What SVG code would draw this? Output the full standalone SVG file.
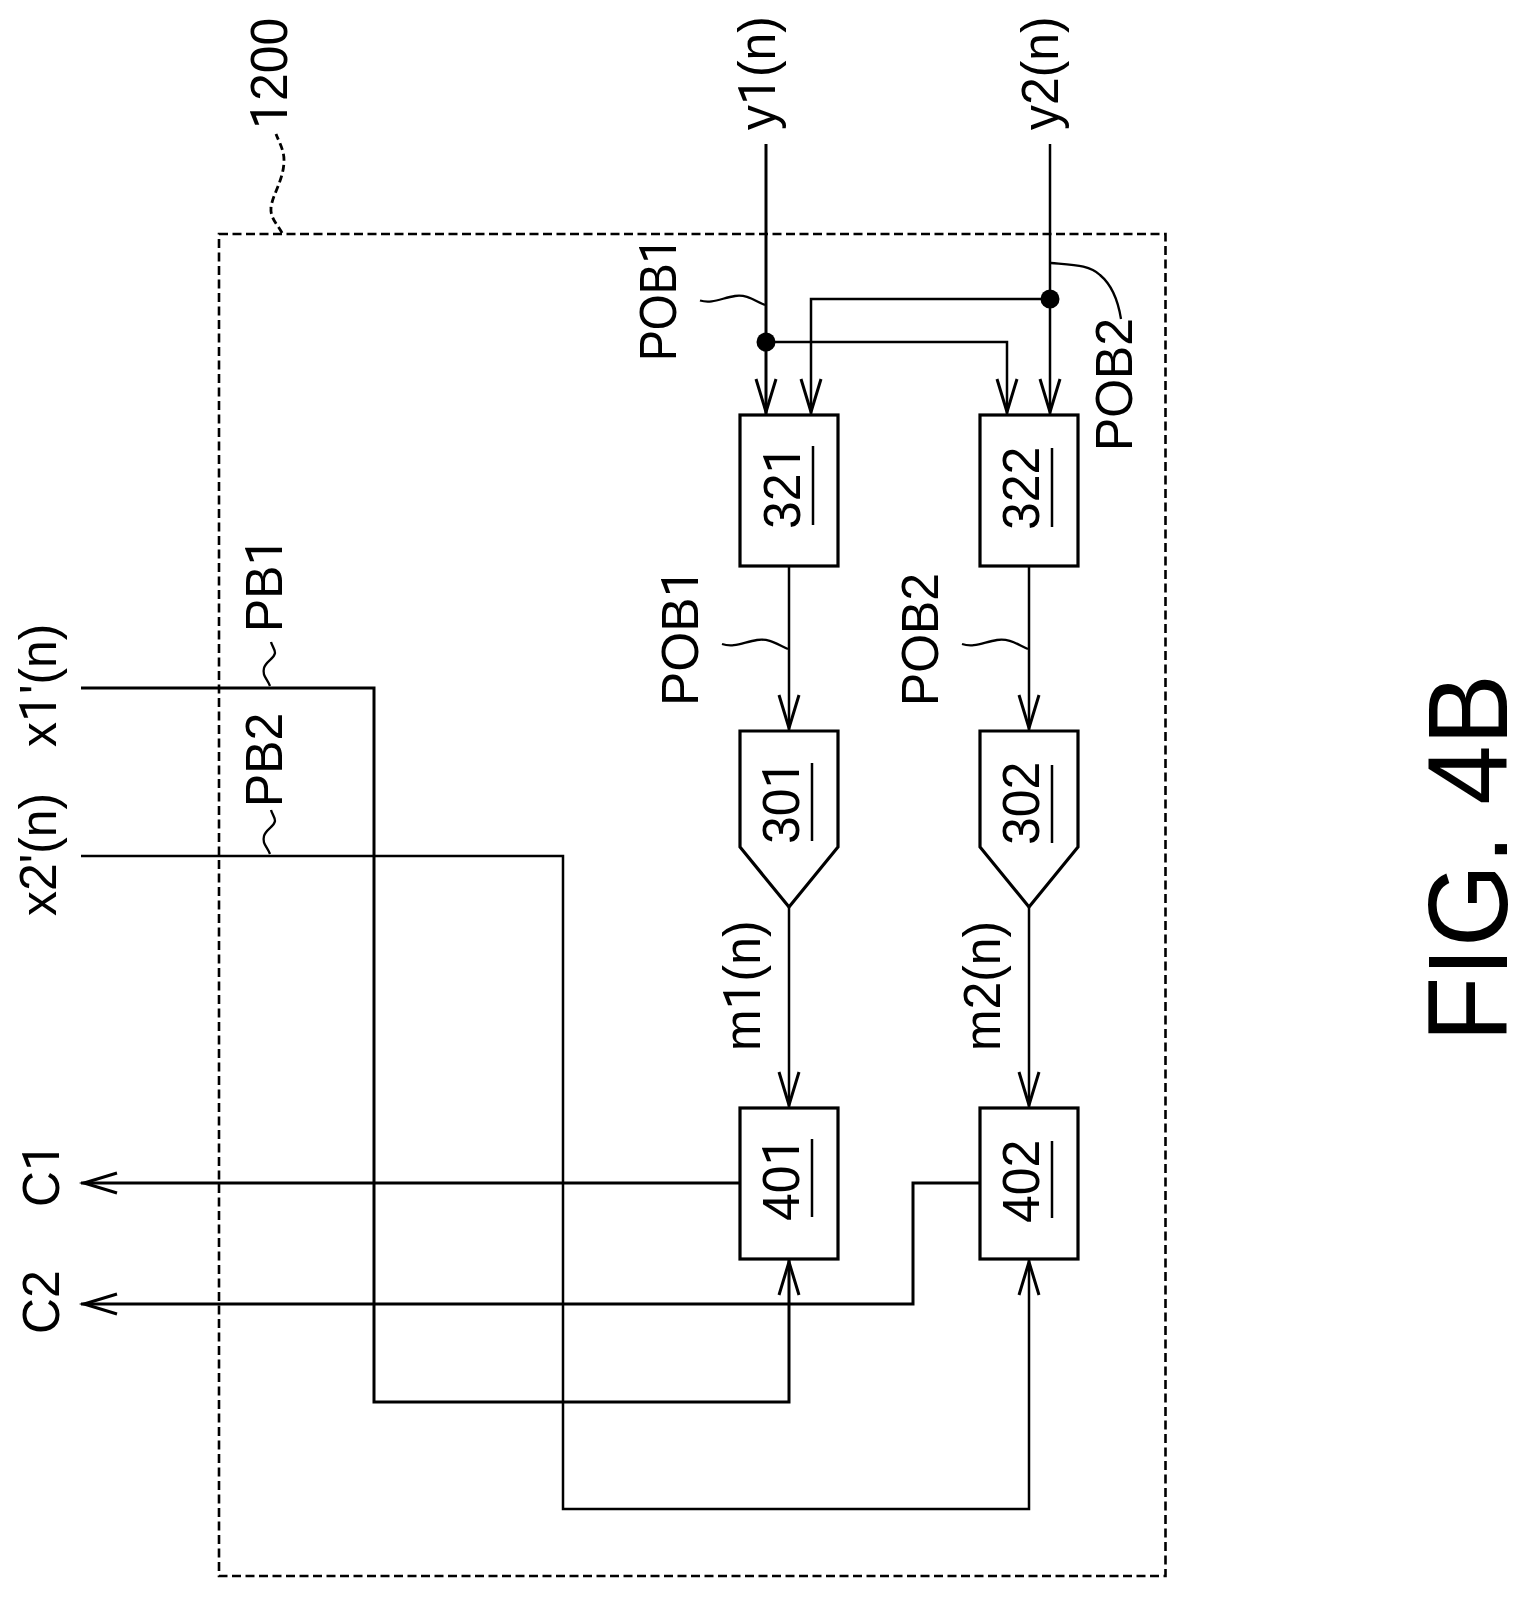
<svg xmlns="http://www.w3.org/2000/svg" width="1528" height="1598" viewBox="0 0 1528 1598">
<style>
.t{font-family:"Liberation Sans",Arial,sans-serif;font-size:52.5px;fill:#000}
.o{font-family:Roboto,"Liberation Sans",sans-serif}
.n{fill:#fff;stroke:#000;stroke-width:3.2}
.u{stroke:#000;stroke-width:2.5;fill:none}
.c{fill:none;stroke:#000;stroke-width:2.5;stroke-linejoin:miter}
.k{fill:none;stroke:#000;stroke-width:3;stroke-linejoin:miter}
.a{marker-end:url(#arrow)}
.s{fill:none;stroke:#000;stroke-width:2.3}
</style>
<defs>
<marker id="arrow" markerUnits="userSpaceOnUse" orient="auto" refX="0" refY="0" markerWidth="40" markerHeight="30" viewBox="-38 -15 40 30" overflow="visible">
<path d="M-36,-10 L-3,0 L-36,10" fill="none" stroke="#000" stroke-width="3"/>
</marker>
</defs>
<rect width="1528" height="1598" fill="#fff"/>
<g id="boundary-1200">
<rect x="219" y="234" width="946.5" height="1342" fill="none" stroke="#000" stroke-width="2.6" stroke-dasharray="9 4.5"/>
<path d="M282,233 C278,225 270,218 271,208 C272,195 284,180 284,160 C284,150 279,142 276,134" fill="none" stroke="#000" stroke-width="2.8" stroke-dasharray="7 4"/>
<text class="t" transform="translate(287,129) rotate(-90) scale(.95,1)"><tspan class="o">1</tspan>200</text>
</g>
<g id="connectors">
<path class="k a" d="M766,144 V415"/>
<path class="c a" d="M1050,144 V415"/>
<path class="c a" d="M1050,299 H811 V415"/>
<path class="c a" d="M766,342 H1007 V415"/>
<circle cx="766" cy="342" r="9.5"/>
<circle cx="1050" cy="299" r="9.5"/>
<path class="c a" d="M789,566 V731"/>
<path class="c a" d="M1029,566 V731"/>
<path class="c a" d="M789,907 V1108"/>
<path class="c a" d="M1029,907 V1108"/>
<path class="k a" d="M740,1183 H81"/>
<path class="k a" d="M980,1183 H913 V1304 H81"/>
<path class="k a" d="M81,688 H374 V1402 H789 V1259"/>
<path class="c a" d="M81,856 H563 V1509 H1029 V1259"/>
<path class="s" d="M700,300.5 C712,304 722,298 735,296 C748,294 756,302 765,305"/>
<path class="s" d="M1051,263 C1075,265 1090,265 1100,275 C1112,285 1118,300 1121,319"/>
<path class="s" d="M722,644 C734,648 744,642 757,640 C770,638 778,645 788,649"/>
<path class="s" d="M962,644 C974,648 984,642 997,640 C1010,638 1018,645 1028,649"/>
<path class="s" d="M270,686 C267,678 262,676 264,668 C266,661 274,659 275,653 C275,649 272,646 271,642"/>
<path class="s" d="M270,854 C267,846 262,844 264,836 C266,829 274,827 275,821 C275,817 272,814 271,810"/>
</g>
<g id="node-321"><rect class="n" x="740" y="415" width="98" height="151"/><text class="t" transform="translate(800,529) rotate(-90) scale(.95,1)">32<tspan class="o">1</tspan></text><path class="u" d="M813,446 V525"/></g>
<g id="node-322"><rect class="n" x="980" y="415" width="98" height="151"/><text class="t" transform="translate(1039,530) rotate(-90) scale(.95,1)">322</text><path class="u" d="M1052,448 V527"/></g>
<g id="node-301"><path class="n" d="M740,731 H838 V847 L789,907 L740,847 Z"/><text class="t" transform="translate(799,844) rotate(-90) scale(.95,1)">30<tspan class="o">1</tspan></text><path class="u" d="M812,763 V841"/></g>
<g id="node-302"><path class="n" d="M980,731 H1078 V847 L1029,907 L980,847 Z"/><text class="t" transform="translate(1039,845) rotate(-90) scale(.95,1)">302</text><path class="u" d="M1052,765 V843"/></g>
<g id="node-401"><rect class="n" x="740" y="1108" width="98" height="151"/><text class="t" transform="translate(799,1221) rotate(-90) scale(.95,1)">40<tspan class="o">1</tspan></text><path class="u" d="M812,1139 V1217"/></g>
<g id="node-402"><rect class="n" x="980" y="1108" width="98" height="151"/><text class="t" transform="translate(1039,1223) rotate(-90) scale(.95,1)">402</text><path class="u" d="M1052,1141 V1218"/></g>
<g id="labels">
<text class="t" transform="translate(775,130) rotate(-90) scale(.95,1)">y<tspan class="o">1</tspan>(n)</text>
<text class="t" transform="translate(1058,130) rotate(-90) scale(.95,1)">y2(n)</text>
<text class="t" transform="translate(676,361) rotate(-90) scale(.88,1)">POB<tspan class="o">1</tspan></text>
<text class="t" transform="translate(1132,451) rotate(-90) scale(.95,1)">POB2</text>
<text class="t" transform="translate(698,706) rotate(-90) scale(.98,1)">POB<tspan class="o">1</tspan></text>
<text class="t" transform="translate(938,706) rotate(-90) scale(.95,1)">POB2</text>
<text class="t" transform="translate(760,1051) rotate(-90) scale(.95,1)">m<tspan class="o">1</tspan>(n)</text>
<text class="t" transform="translate(1000,1051) rotate(-90) scale(.95,1)">m2(n)</text>
<text class="t" transform="translate(282,632) rotate(-90) scale(.95,1)">PB<tspan class="o">1</tspan></text>
<text class="t" transform="translate(282,807) rotate(-90) scale(.95,1)">PB2</text>
<text class="t" transform="translate(56,747) rotate(-90) scale(.95,1)">x<tspan class="o">1</tspan>'(n)</text>
<text class="t" transform="translate(56,916) rotate(-90) scale(.95,1)">x2'(n)</text>
<text class="t" transform="translate(59,1207) rotate(-90) scale(.95,1)">C<tspan class="o">1</tspan></text>
<text class="t" transform="translate(59,1334) rotate(-90) scale(.95,1)">C2</text>
<text class="t" style="font-size:113px" transform="translate(1507,1042) rotate(-90) scale(.945,1)">FIG. 4B</text>
</g>
</svg>
